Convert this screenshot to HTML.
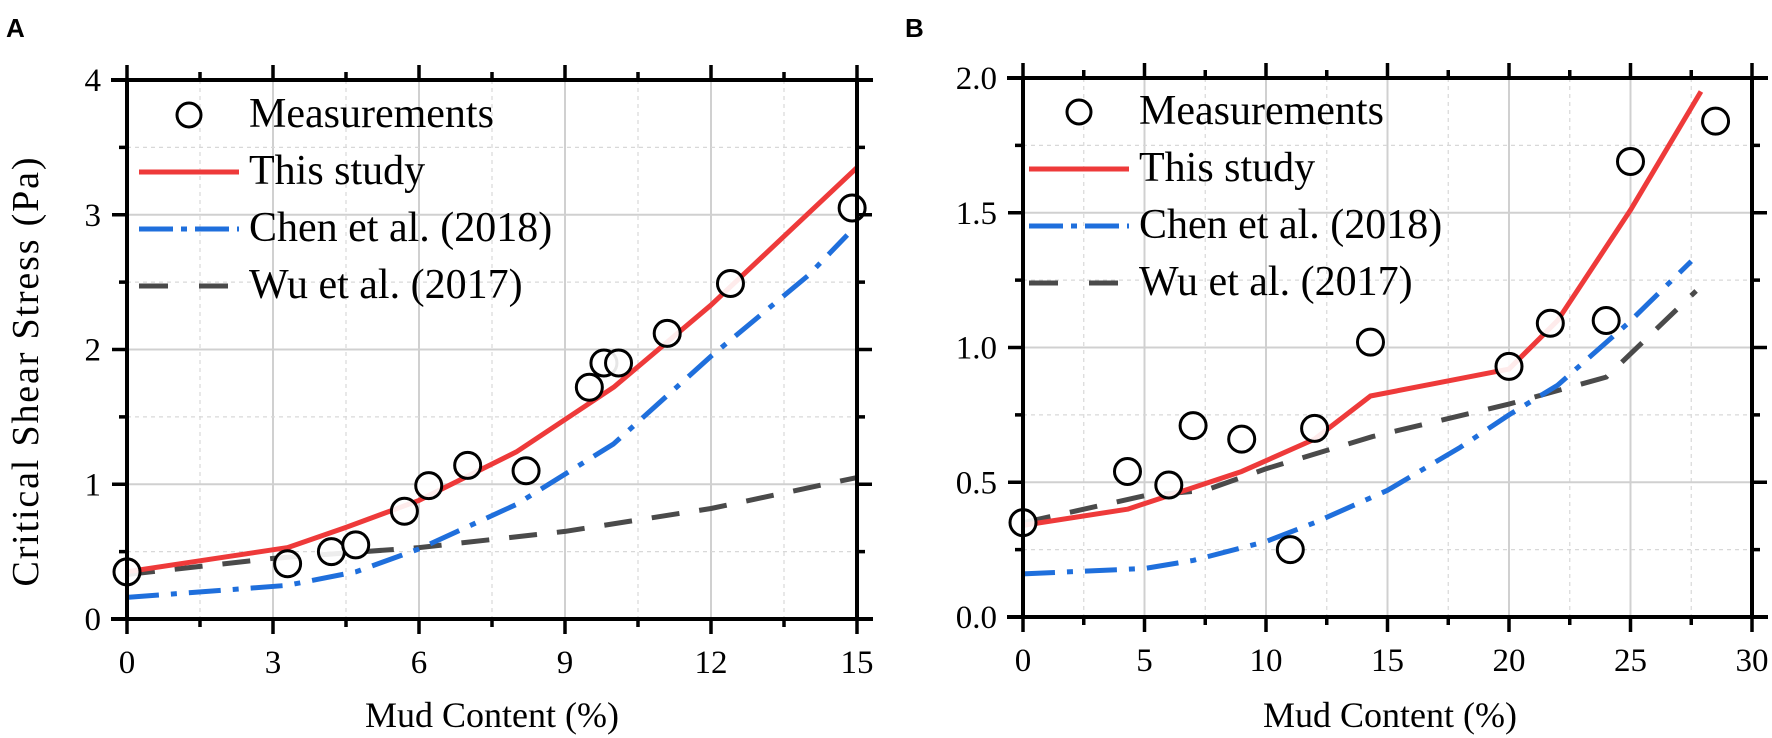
<!DOCTYPE html>
<html><head><meta charset="utf-8"><style>
body{margin:0;background:#fff}
svg{display:block}
text{font-family:"Liberation Serif",serif}
</style></head><body>
<svg id="c" width="1772" height="738" xmlns="http://www.w3.org/2000/svg"></svg>
<script>
// Panel A data
const aMeasX=[0,3.3,4.2,4.7,5.7,6.2,7,8.2,9.5,9.8,10.1,11.1,12.4,14.9];
const aMeasY=[0.35,0.41,0.5,0.55,0.8,0.99,1.14,1.1,1.72,1.9,1.9,2.12,2.49,3.05];
const aThisX=[0,3.3,4.5,6,8,10,12,15];
const aThisY=[0.35,0.53,0.68,0.88,1.24,1.72,2.33,3.35];
const aChenX=[0,3.3,4.7,6,8,10,12,14,14.8];
const aChenY=[0.16,0.25,0.35,0.52,0.85,1.3,1.95,2.55,2.85];
const aWuX=[0,3,6,9,12,15];
const aWuY=[0.33,0.45,0.53,0.65,0.82,1.05];
const aXTicks=[0,3,6,9,12,15];
const aYTicks=[0,1,2,3,4];
// Panel B data
const bMeasX=[0,4.3,6,7,9,11,12,14.3,20,21.7,24,25,28.5];
const bMeasY=[0.35,0.54,0.49,0.71,0.66,0.25,0.7,1.02,0.93,1.09,1.1,1.69,1.84];
const bThisX=[0,4.3,7,9,12,14.3,20,22,25,27.9];
const bThisY=[0.34,0.4,0.48,0.54,0.66,0.82,0.92,1.1,1.51,1.95];
const bChenX=[0,5,7,10,12,15,18,20,22,24.9,27.5];
const bChenY=[0.16,0.18,0.21,0.28,0.35,0.47,0.63,0.75,0.86,1.09,1.32];
const bWuX=[0,5,7.5,10,14.4,20,24,27.7];
const bWuY=[0.35,0.45,0.47,0.55,0.67,0.79,0.89,1.21];
const bXTicks=[0,5,10,15,20,25,30];
const bYTicks=["0.0","0.5","1.0","1.5","2.0"];

const NS="http://www.w3.org/2000/svg";
const svg=document.getElementById('c');
function el(t,a,p){const e=document.createElementNS(NS,t);for(const k in a)e.setAttribute(k,a[k]);(p||svg).appendChild(e);return e;}

function panel(o){
  const g=el('g',{});
  
  
  const sx=v=>o.x0+(v-o.xmin)/(o.xmax-o.xmin)*(o.x1-o.x0);
  const sy=v=>o.y0-(v-o.ymin)/(o.ymax-o.ymin)*(o.y0-o.y1);
  const L=o.fl, R=o.fr, T=o.ft, B=o.fb;
  const xs=o.xticks.map(Number), ys=o.yticks.map(Number);
  const dx=xs[1]-xs[0], dy=ys[1]-ys[0];
  xs.forEach(v=>{
    const gl=el('line',{x1:sx(v),x2:sx(v),y1:T,y2:B,stroke:'#d0d0d0','stroke-width':2},g);
    
    const m=v+dx/2; if(m<o.xmax){const gm=el('line',{x1:sx(m),x2:sx(m),y1:T,y2:B,stroke:'#d8d8d8','stroke-width':1.2,'stroke-dasharray':'4 4'},g);
    }
  });
  ys.forEach(v=>{
    const gl=el('line',{x1:L,x2:R,y1:sy(v),y2:sy(v),stroke:'#d0d0d0','stroke-width':2},g);
    
    const m=v+dy/2; if(m<o.ymax){const gm=el('line',{x1:L,x2:R,y1:sy(m),y2:sy(m),stroke:'#d8d8d8','stroke-width':1.2,'stroke-dasharray':'4 4'},g);
    }
  });
  function line(X,Y,color,dash,name){
    const p=el('polyline',{points:X.map((x,i)=>sx(x)+','+sy(Y[i])).join(' '),fill:'none',stroke:color,'stroke-width':5,'stroke-dasharray':dash,'stroke-linecap':'butt','stroke-linejoin':'round'},g);
    
  }
  line(o.wx,o.wy,'#4a4a4a','28 20','wu-2017-line');
  line(o.cx,o.cy,'#1f6fdc','32 12 6 12','chen-2018-line');
  line(o.tx,o.ty,'#ee3a3a','','this-study-line');
  o.mx.forEach((x,i)=>{
    const c=el('circle',{cx:sx(x),cy:sy(o.my[i]),r:13,fill:'#fff','fill-opacity':0.9,stroke:'#000','stroke-width':3},g);
    
  });
  const f=el('rect',{x:L,y:T,width:R-L,height:B-T,fill:'none',stroke:'#000','stroke-width':4},g);
  
  const ax=el('line',{x1:L-16,x2:R+16,y1:B,y2:B,stroke:'#000','stroke-width':4},g);
  
  const at=el('line',{x1:L-16,x2:R+16,y1:T,y2:T,stroke:'#000','stroke-width':4},g);
  
  xs.forEach((v,i)=>{
    [[B,B+15],[T,T-15]].forEach(([a,b])=>el('line',{x1:sx(v),x2:sx(v),y1:a,y2:b,stroke:'#000','stroke-width':3.5},g));
    const m=v+dx/2; if(m<o.xmax)[[B,B+8],[T,T-8]].forEach(([a,b])=>el('line',{x1:sx(m),x2:sx(m),y1:a,y2:b,stroke:'#000','stroke-width':3.5},g));
    const t=el('text',{x:sx(v),y:B+54,'text-anchor':'middle','font-size':33},g);t.textContent=o.xticks[i];
    
  });
  ys.forEach((v,i)=>{
    [[L,L-15],[R,R+15]].forEach(([a,b])=>el('line',{x1:a,x2:b,y1:sy(v),y2:sy(v),stroke:'#000','stroke-width':3.5},g));
    const m=v+dy/2; if(m<o.ymax)[[L,L-8],[R,R+8]].forEach(([a,b])=>el('line',{x1:a,x2:b,y1:sy(m),y2:sy(m),stroke:'#000','stroke-width':3.5},g));
    const t=el('text',{x:L-26,y:sy(v)+11,'text-anchor':'end','font-size':33},g);t.textContent=o.yticks[i];
    
  });
  const xt=el('text',{x:o.xtx,y:727,'text-anchor':'middle','font-size':36},g);xt.textContent='Mud Content (%)';
  
  const lg=el('g',{},g);
  const lx=o.lx, ly=o.ly;
  const lc=el('circle',{cx:lx+50,cy:ly,r:12,fill:'#fff',stroke:'#000','stroke-width':3},lg);
  
  const items=[['Measurements',null,''],['This study','#ee3a3a',''],['Chen et al. (2018)','#1f6fdc','34 8 6 8'],['Wu et al. (2017)','#4a4a4a','29 31']];
  items.forEach((it,i)=>{
    const y=ly+i*57;
    if(it[1]){const l=el('line',{x1:lx,x2:lx+100,y1:y,y2:y,stroke:it[1],'stroke-width':5,'stroke-dasharray':it[2]},lg);
      }
    const t=el('text',{x:lx+110,y:y+12,'font-size':42},lg);t.textContent=it[0];
    
  });
}

panel({name:'panel-a',x0:127,x1:857,xmin:0,xmax:15,y0:619,y1:80,ymin:0,ymax:4,fl:127,fr:857,ft:80,fb:619,
  xticks:aXTicks,yticks:aYTicks,mx:aMeasX,my:aMeasY,tx:aThisX,ty:aThisY,cx:aChenX,cy:aChenY,wx:aWuX,wy:aWuY,lx:139,ly:115,xtx:492});
panel({name:'panel-b',x0:1023,x1:1752,xmin:0,xmax:30,y0:617,y1:78,ymin:0,ymax:2,fl:1023,fr:1752,ft:78,fb:617,
  xticks:bXTicks,yticks:bYTicks,mx:bMeasX,my:bMeasY,tx:bThisX,ty:bThisY,cx:bChenX,cy:bChenY,wx:bWuX,wy:bWuY,lx:1029,ly:112,xtx:1390});

const yt=el('text',{x:0,y:0,'text-anchor':'middle','font-size':38,textLength:429,transform:'translate(38,372) rotate(-90)'});
yt.textContent='Critical Shear Stress (Pa)';


const pa=el('text',{x:6,y:37,'font-size':26,'font-weight':'bold',style:'font-family:"Liberation Sans",sans-serif'});
pa.textContent='A';


const pb=el('text',{x:905,y:37,'font-size':26,'font-weight':'bold',style:'font-family:"Liberation Sans",sans-serif'});
pb.textContent='B';


</script>
</body></html>
